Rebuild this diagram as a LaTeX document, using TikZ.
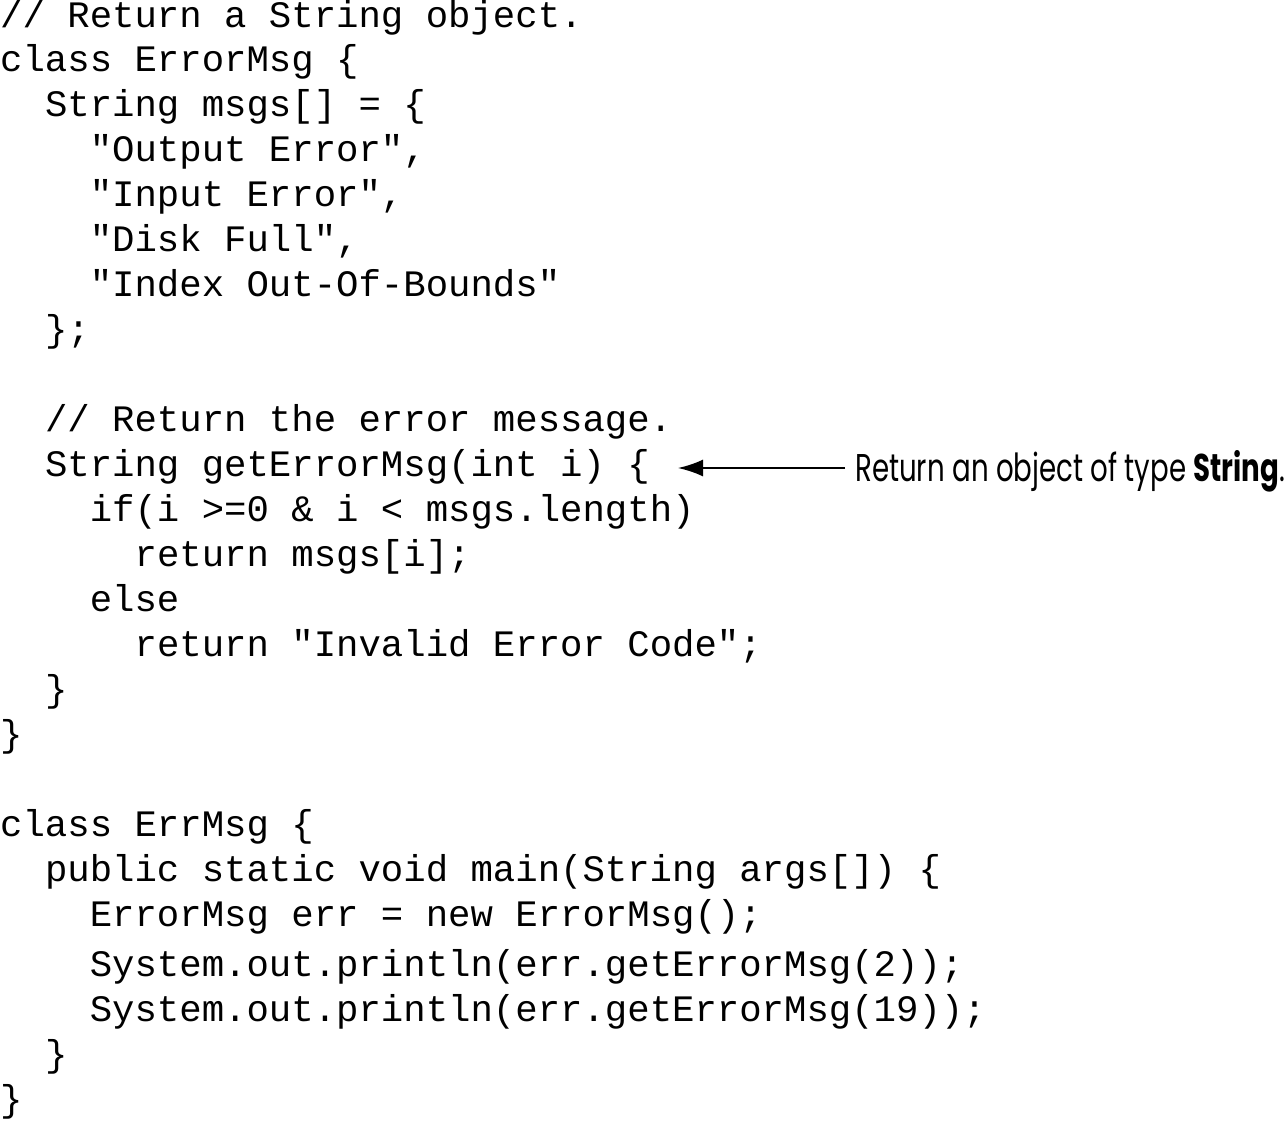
\documentclass[tikz,border=0pt]{standalone}
\usepackage{fontspec}
\usepackage{graphicx}
\usetikzlibrary{arrows.meta}
\newfontfamily\codefont{Liberation Mono}
\newfontfamily\notefont{Poppins}

\begin{document}
\begin{tikzpicture}[x=1pt,y=-1pt]
	\tikzstyle{code}=[anchor=base west,inner sep=0pt,font={\codefont\fontsize{37.33pt}{45pt}\selectfont}]
	\tikzstyle{note}=[anchor=base west,inner sep=0pt]
	\tikzstyle{pointer}=[line width=2pt,-{Latex[length=25pt,width=17pt]}]
	\useasboundingbox (0,0) rectangle (1287,1120);
	\node[code] (L1) at (0,27){// Return a String object.};
	\node[code] (L2) at (0,71){class ErrorMsg \{};
	\node[code] (L3) at (44.8,116){String msgs[] = \{};
	\node[code] (L4) at (89.6,161){"Output Error",};
	\node[code] (L5) at (89.6,206){"Input Error",};
	\node[code] (L6) at (89.6,251){"Disk Full",};
	\node[code] (L7) at (89.6,296){"Index Out-Of-Bounds"};
	\node[code] (L8) at (44.8,341){\};};
	\node[code] (L10) at (44.8,431){// Return the error message.};
	\node[code] (L11) at (44.8,476){String getErrorMsg(int i) \{};
	\node[code] (L12) at (89.6,521){if(i >=0 \& i < msgs.length)};
	\node[code] (L13) at (134.4,566){return msgs[i];};
	\node[code] (L14) at (89.6,611){else};
	\node[code] (L15) at (134.4,656){return "Invalid Error Code";};
	\node[code] (L16) at (44.8,701){\}};
	\node[code] (L17) at (0,746){\}};
	\node[code] (L19) at (0,836){class ErrMsg \{};
	\node[code] (L20) at (44.8,881){public static void main(String args[]) \{};
	\node[code] (L21) at (89.6,926){ErrorMsg err = new ErrorMsg();};
	\node[code] (L22) at (89.6,976){System.out.println(err.getErrorMsg(2));};
	\node[code] (L23) at (89.6,1021){System.out.println(err.getErrorMsg(19));};
	\node[code] (L24) at (44.8,1066){\}};
	\node[code] (L25) at (0,1111){\}};
	% annotation
	\node[note] (N) at (855,481){\resizebox{430pt}{31pt}{\notefont Return an object of type \textbf{String}.}};
	\coordinate (tip) at (678,468);
	\draw[pointer] ([xshift=-10pt]N.west |- tip) -- (tip);
\end{tikzpicture}
\end{document}
